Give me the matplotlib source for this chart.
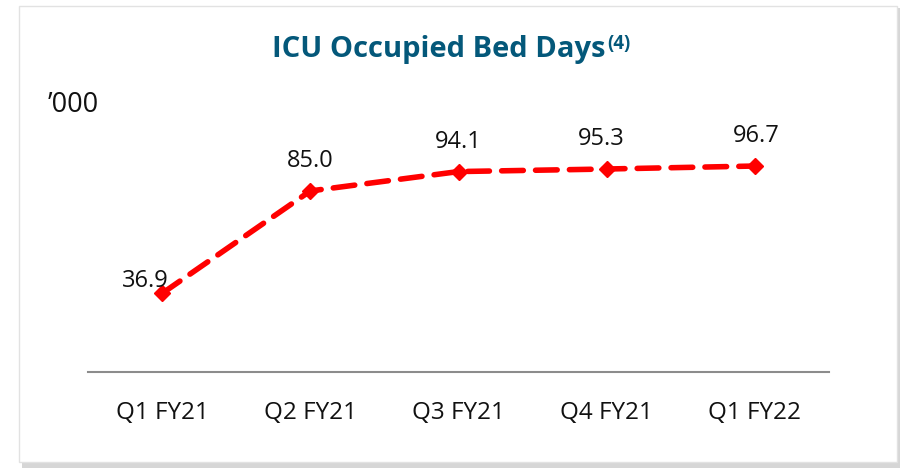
import matplotlib.pyplot as plt
from matplotlib.patches import Rectangle

plt.rcParams['font.family'] = ['Open Sans', 'DejaVu Sans']

# data
quarters = ["Q1 FY21", "Q2 FY21", "Q3 FY21", "Q4 FY21", "Q1 FY22"]
bed_days = [36.9, 85.0, 94.1, 95.3, 96.7]
# label nudges in points (x, y)
label_offsets = [(-12, 0), (0, 13), (0, 13), (-4, 13), (1, 13)]

W, H = 901, 469
fig = plt.figure(figsize=(W / 100, H / 100), dpi=100)
fig.patch.set_facecolor("white")

# card with a soft shadow
fig.patches.append(Rectangle((22 / W, 1 - 468 / H), 878 / W, 460 / H,
                             transform=fig.transFigure, facecolor="#d6d6d6",
                             edgecolor="none", zorder=0))
fig.patches.append(Rectangle((19 / W, 1 - 462 / H), 878 / W, 456 / H,
                             transform=fig.transFigure, facecolor="white",
                             edgecolor="#e2e2e2", linewidth=1, zorder=1))

ax = fig.add_axes([88 / W, 1 - 372 / H, 741 / W, 272 / H])
ax.set_facecolor("none")
ax.set_zorder(2)

x = range(len(quarters))
ax.plot(x, bed_days, color="#ff0000", linewidth=4, dashes=(3.9, 2.2),
        dash_capstyle="round", marker="D", markersize=8,
        markerfacecolor="#ff0000", markeredgecolor="#ff0000")

for i, v in enumerate(bed_days):
    dx, dy = label_offsets[i]
    ax.annotate(f"{v:.1f}", (i, v), xytext=(dx, dy), textcoords="offset points",
                ha="center", va="bottom", fontsize=17, color="#111111")

ax.set_xlim(-0.5, len(quarters) - 0.5)
ax.set_ylim(0, 127.7)
ax.set_xticks(list(x))
ax.set_xticklabels(quarters, fontsize=17.5, color="#111111")
ax.tick_params(axis="x", length=0, pad=21)
ax.set_yticks([])
for s in ["top", "right", "left"]:
    ax.spines[s].set_visible(False)
ax.spines["bottom"].set_color("#8c8c8c")
ax.spines["bottom"].set_linewidth(1.5)

title = fig.text(272 / W, 1 - 49 / H, "ICU Occupied Bed Days", ha="left",
                 va="center", fontsize=21, fontweight="bold", color="#04587a")
ax.annotate("(4)", xy=(1, 1.0), xycoords=title, xytext=(1, 0),
            textcoords="offset points", ha="left", va="top", fontsize=13.5,
            fontweight="bold", color="#04587a")

fig.text(48 / W, 1 - 105 / H, "\u2019000", ha="left", va="center",
         fontsize=19.5, color="#111111")

fig.savefig("out.png", dpi=100)
